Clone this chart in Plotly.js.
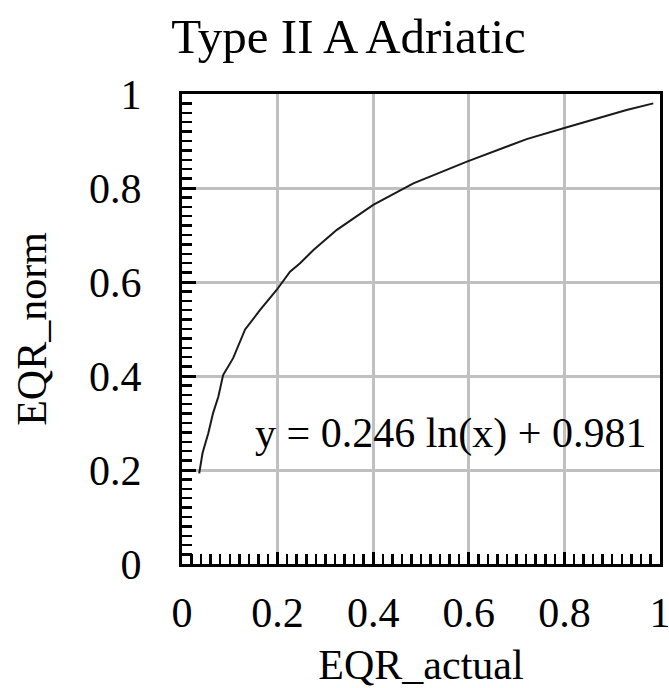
<!DOCTYPE html>
<html>
<head>
<meta charset="utf-8">
<script src="https://cdn.plot.ly/plotly-3.0.1.min.js"></script>
<style>html,body{margin:0;padding:0;background:#fff;}#chart{width:669px;height:688px;}</style>
</head>
<body>
<div id="chart"></div>
<script>
// Curve points
const eqrActual = [0.036, 0.043, 0.055, 0.065, 0.076, 0.086, 0.107, 0.125, 0.132, 0.163, 0.198, 0.226, 0.247, 0.275, 0.324, 0.400, 0.484, 0.596, 0.651, 0.721, 0.798, 0.860, 0.930, 0.986];
const eqrNorm   = [0.193, 0.236, 0.278, 0.321, 0.356, 0.402, 0.438, 0.484, 0.499, 0.540, 0.583, 0.622, 0.640, 0.668, 0.711, 0.764, 0.810, 0.856, 0.877, 0.904, 0.927, 0.945, 0.966, 0.980];
const tickVals  = [0, 0.2, 0.4, 0.6, 0.8, 1];
const tickText  = ['0', '0.2', '0.4', '0.6', '0.8', '1'];
const chartTitle = 'Type II A Adriatic';
const xTitle = 'EQR_actual';
const yTitle = 'EQR_norm';
const equationText = 'y = 0.246 ln(x) + 0.981';

const serif = 'Liberation Serif, Times New Roman, serif';

const trace = {
  x: eqrActual, y: eqrNorm, type: 'scatter', mode: 'lines',
  line: {color: '#1a1a1a', width: 2},
  hoverinfo: 'skip', showlegend: false
};

const axisCommon = {
  range: [0, 1], tickmode: 'array', tickvals: tickVals, ticktext: tickText,
  showline: true, linecolor: '#000', linewidth: 3, mirror: true,
  showgrid: true, gridcolor: '#c0c0c0', gridwidth: 3,
  zeroline: false, ticks: 'inside', tickcolor: '#000', tickwidth: 3,
  ticklabeloverflow: 'allow',
  tickfont: {family: serif, size: 42, color: '#000'},
  minor: {dtick: 0.02, tick0: 0, ticks: 'inside', ticklen: 10, tickwidth: 2.5, tickcolor: '#000', showgrid: false},
  fixedrange: true
};

const layout = {
  width: 669, height: 688,
  margin: {l: 182, r: 9, t: 94, b: 124, pad: 0},
  paper_bgcolor: '#fff', plot_bgcolor: '#fff',
  font: {family: serif, color: '#000'},
  title: {text: chartTitle, font: {family: serif, size: 49, color: '#000'},
          x: 0.521, xref: 'container', xanchor: 'center', y: 1 - 19/688, yref: 'container', yanchor: 'top'},
  xaxis: Object.assign({}, axisCommon, {
    ticklen: 12, ticklabelstandoff: 10,
    title: {text: xTitle, font: {family: serif, size: 42, color: '#000'}, standoff: 40}
  }),
  yaxis: Object.assign({}, axisCommon, {
    ticklen: 14, ticklabelstandoff: 29,
    title: {text: yTitle, font: {family: serif, size: 42, color: '#000'}, standoff: 30}
  }),
  annotations: [{
    text: equationText, xref: 'paper', yref: 'y', x: 0.978, y: 0.278,
    xanchor: 'right', yanchor: 'middle', showarrow: false,
    font: {family: serif, size: 42, color: '#000'}
  }]
};

Plotly.newPlot('chart', [trace], layout, {displayModeBar: false, staticPlot: true});
</script>
</body>
</html>
